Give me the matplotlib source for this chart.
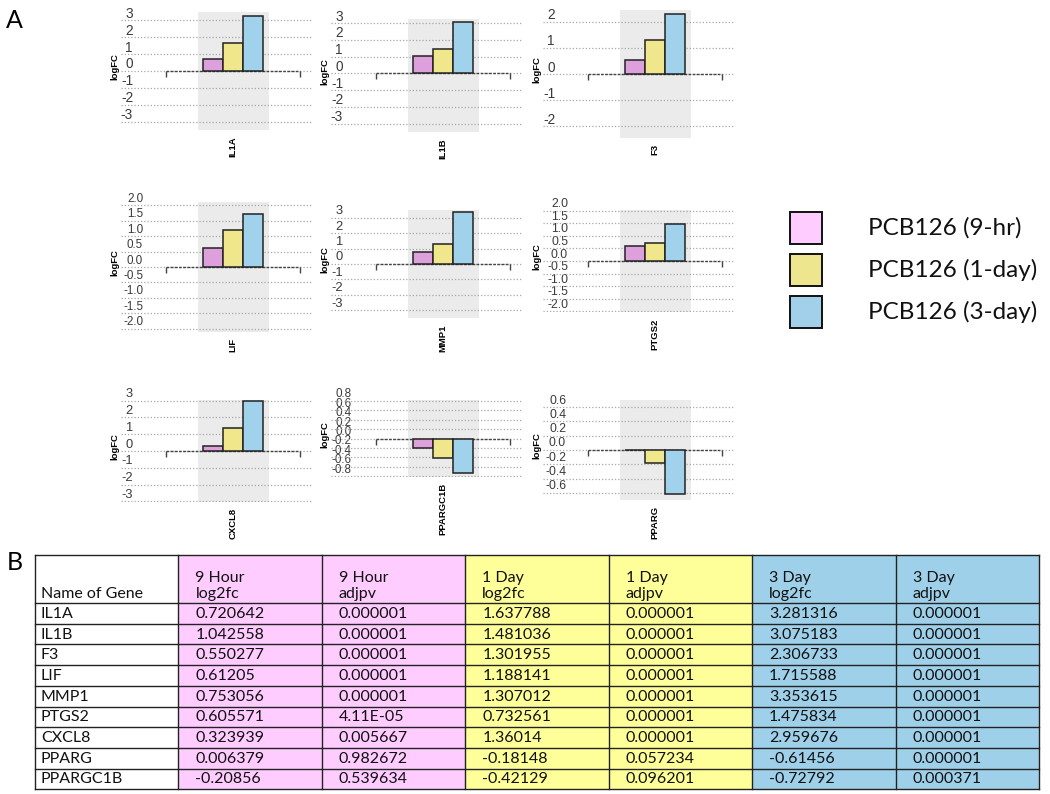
import numpy as np
import matplotlib
matplotlib.use('Agg')
import matplotlib.pyplot as plt
import matplotlib.transforms as mtransforms
from matplotlib.patches import Rectangle

W, H = 1050, 794

# table data (rows in table order)
genes = ['IL1A', 'IL1B', 'F3', 'LIF', 'MMP1', 'PTGS2', 'CXCL8', 'PPARG', 'PPARGC1B']
fc_9hr = [0.720642, 1.042558, 0.550277, 0.61205, 0.753056, 0.605571, 0.323939, 0.006379, -0.20856]
pv_9hr = ['0.000001', '0.000001', '0.000001', '0.000001', '0.000001', '4.11E-05', '0.005667', '0.982672', '0.539634']
fc_1day = [1.637788, 1.481036, 1.301955, 1.188141, 1.307012, 0.732561, 1.36014, -0.18148, -0.42129]
pv_1day = ['0.000001', '0.000001', '0.000001', '0.000001', '0.000001', '0.000001', '0.000001', '0.057234', '0.096201']
fc_3day = [3.281316, 3.075183, 2.306733, 1.715588, 3.353615, 1.475834, 2.959676, -0.61456, -0.72792]
pv_3day = ['0.000001', '0.000001', '0.000001', '0.000001', '0.000001', '0.000001', '0.000001', '0.000001', '0.000371']

series = ['PCB126 (9-hr)', 'PCB126 (1-day)', 'PCB126 (3-day)']
headers = ['Name of Gene', '9 Hour\nlog2fc', '9 Hour\nadjpv', '1 Day\nlog2fc',
           '1 Day\nadjpv', '3 Day\nlog2fc', '3 Day\nadjpv']

# small panels, left to right, top to bottom
panel_genes = ['IL1A', 'IL1B', 'F3', 'LIF', 'MMP1', 'PTGS2', 'CXCL8', 'PPARGC1B', 'PPARG']
int3 = ['-3', '-2', '-1', '0', '1', '2', '3']
int2 = ['-2', '-1', '0', '1', '2']
half2 = ['-2.0', '-1.5', '-1.0', '-0.5', '0.0', '0.5', '1.0', '1.5', '2.0']
tenth8 = ['-0.8', '-0.6', '-0.4', '-0.2', '0.0', '0.2', '0.4', '0.6', '0.8']
tenth6 = ['-0.6', '-0.4', '-0.2', '0.0', '0.2', '0.4', '0.6']
panel_ticks = [int3, int3, int2, half2, int3, half2, int3, tenth8, tenth6]

# layout in pixels: center x, top, bottom, ylim lo, ylim hi, label offset, label size
layout = [
    (233, 12, 130, -3.5, 3.5, 12, 9.8),
    (443, 19, 132, -3.5, 3.25, 12, 9.8),
    (655, 10, 138, -2.46, 2.46, 12, 9.8),
    (233, 202, 332, -2.1, 2.1, 22, 8.4),
    (443, 210, 318, -3.5, 3.5, 12, 9.3),
    (655, 210, 312, -2.03, 2.03, 25, 8.8),
    (233, 400, 502, -3.03, 3.03, 12, 9.3),
    (443, 400, 477, -0.82, 0.82, 21, 8.4),
    (655, 400, 500, -0.7, 0.7, 23, 8.8),
]

bar_colors = ['#DDA0DD', '#F0E68C', '#A0D2EB']
legend_colors = ['#FFCCFF', '#EEE68E', '#A2D0EA']
table_fills = ['white', '#FFCCFF', '#FFCCFF', '#FFFF99', '#FFFF99', '#9FD0E9', '#9FD0E9']

UNIT = 71.0  # px per category width (gray band)

fig = plt.figure(figsize=(W / 100, H / 100), dpi=100)


def px_box(x0, y0, x1, y1):
    return [x0 / W, 1 - y1 / H, (x1 - x0) / W, (y1 - y0) / H]


shift_up = mtransforms.ScaledTranslation(0, 8 / 100, fig.dpi_scale_trans)

for gene, ticks, (cx, top, bot, ylo, yhi, lab_off, lab_fs) in zip(panel_genes, panel_ticks, layout):
    i = genes.index(gene)
    vals = [fc_9hr[i], fc_1day[i], fc_3day[i]]
    left, right = cx - 112, cx + 80
    ax = fig.add_axes(px_box(left, top, right, bot))
    ax.set_facecolor('none')
    ax.set_xlim(-112 / UNIT, 80 / UNIT)
    ax.set_ylim(ylo, yhi)
    for s in ax.spines.values():
        s.set_visible(False)

    ax.axvspan(-0.5, 0.5, color='#EBEBEB', zorder=0.1, lw=0)
    ax.set_axisbelow(True)
    ax.yaxis.grid(True, ls=(0, (1, 1.6)), color='#A8A8A8', lw=0.9)

    ax.plot([-0.94, 0.94], [0, 0], color='#444444', lw=1.0, ls=(0, (2, 1)), zorder=1.5)
    ax.plot([-0.94, 0.94], [0, 0], ls='none', marker=3, ms=4, mew=1.0, color='#444444', zorder=1.5)

    ax.bar([-0.285, 0.0, 0.285], vals, width=0.285, color=bar_colors,
           edgecolor='#222222', lw=1.1, zorder=2)

    ax.set_yticks([float(t) for t in ticks])
    ax.set_yticklabels(ticks, family='Liberation Sans')
    ax.tick_params(axis='y', length=0, pad=-lab_off * 0.72, labelsize=lab_fs,
                   labelcolor='#3A3A3A')
    for lab in ax.get_yticklabels():
        lab.set_transform(lab.get_transform() + shift_up)

    ax.set_xticks([0])
    ax.set_xticklabels([gene], rotation=90, fontweight='bold', fontsize=6.8,
                       family='Liberation Sans')
    ax.tick_params(axis='x', length=0, pad=4.5)

    ax.set_ylabel('logFC', fontsize=6.8, fontweight='bold', family='Liberation Sans')
    ax.yaxis.set_label_coords(-1.5 / (right - left), 0.5 + 4 / (bot - top))

# page overlay in pixel coordinates
page = fig.add_axes([0, 0, 1, 1])
page.set_xlim(0, W)
page.set_ylim(H, 0)
page.axis('off')

page.text(14, 20, 'A', fontsize=18, ha='center', va='center', family='Lato')
page.text(15, 562, 'B', fontsize=18, ha='center', va='center', family='Lato')

# legend
for k, (lab, col) in enumerate(zip(series, legend_colors)):
    cy = 228 + 42 * k
    page.add_patch(Rectangle((790, cy - 16), 32, 32, fc=col, ec='#111111', lw=1.4))
    page.text(868, cy, lab, fontsize=17.5, va='center', ha='left', family='Lato', color='#111111')

# table
col_edges = np.linspace(35, 1039, 8)
top, head_bot, row_h = 555, 603, 20.7
bottom = head_bot + row_h * len(genes)
for j, fill in enumerate(table_fills):
    page.add_patch(Rectangle((col_edges[j], top), col_edges[j + 1] - col_edges[j],
                             bottom - top, fc=fill, ec='none', zorder=0))
for y in [top, head_bot] + [head_bot + row_h * (k + 1) for k in range(len(genes))]:
    page.plot([col_edges[0], col_edges[-1]], [y, y], color='#222222', lw=1.0)
for x in col_edges:
    page.plot([x, x], [top, bottom], color='#222222', lw=1.0)

pads = [6] + [17] * 6
for j, h in enumerate(headers):
    page.text(col_edges[j] + pads[j], head_bot - 2, h, fontsize=11.5, va='bottom',
              ha='left', family='Lato', linespacing=1.2, color='#111111')

columns = [genes, [str(v) for v in fc_9hr], pv_9hr, [str(v) for v in fc_1day],
           pv_1day, [str(v) for v in fc_3day], pv_3day]
for j, col in enumerate(columns):
    for i, txt in enumerate(col):
        page.text(col_edges[j] + pads[j], head_bot + row_h * (i + 0.5) + 0.5, txt,
                  fontsize=11.5, va='center', ha='left', family='Lato', color='#111111')

fig.savefig('out.png', dpi=100)
